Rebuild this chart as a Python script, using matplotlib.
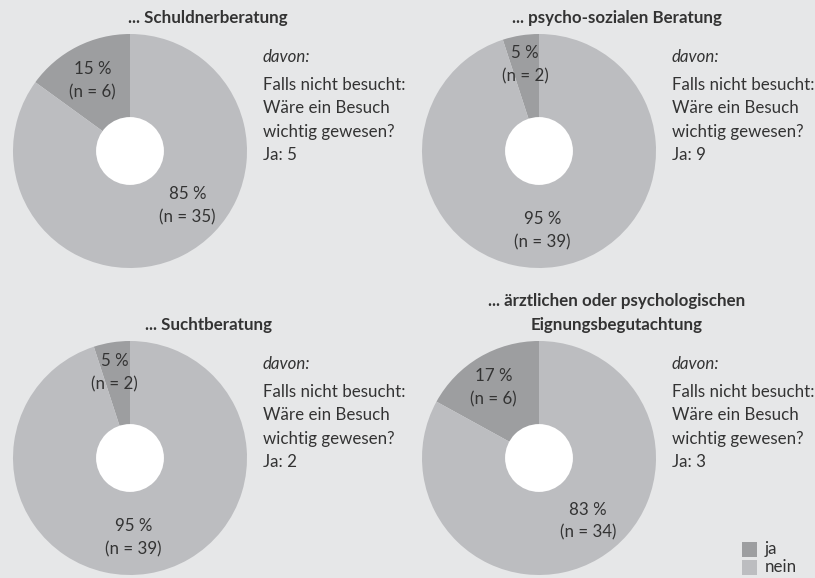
import matplotlib
matplotlib.use("Agg")
import matplotlib.pyplot as plt
from matplotlib.patches import Circle, Rectangle

# ---- data ----
titles = ["... Schuldnerberatung",
          "... psycho-sozialen Beratung",
          "... Suchtberatung",
          "... ärztlichen oder psychologischen\nEignungsbegutachtung"]
pct_ja = [15, 5, 5, 17]
pct_nein = [85, 95, 95, 83]
n_ja = [6, 2, 2, 6]
n_nein = [35, 39, 39, 34]
ja_wichtig = [5, 9, 2, 3]
legend_labels = ["ja", "nein"]

# ---- style ----
BG = "#e6e7e8"
C_JA = "#9d9ea0"
C_NEIN = "#bcbdc0"
TXT = "#333333"
FONT = ["Lato", "DejaVu Sans"]
plt.rcParams["font.family"] = FONT

W, H = 815, 578
fig = plt.figure(figsize=(W / 100, H / 100), dpi=100, facecolor=BG)

def fx(x):
    return x / W

def fy(y):
    return 1 - y / H

centers = [(130, 151), (539, 151), (130, 458), (539, 458)]
R = 117.0
hole = 0.29
# label positions in donut units (ja, nein)
ja_pos = [(-0.32, 0.60), (-0.12, 0.74), (-0.13, 0.73), (-0.39, 0.60)]
nein_pos = [(0.49, -0.47), (0.03, -0.68), (0.03, -0.68), (0.42, -0.54)]
FS = 12.2

for i, (cx, cy) in enumerate(centers):
    ax = fig.add_axes([fx(cx - R), fy(cy + R), 2 * R / W, 2 * R / H])
    ax.pie([pct_ja[i], pct_nein[i]], colors=[C_JA, C_NEIN], startangle=90,
           counterclock=True, radius=1.0, wedgeprops=dict(linewidth=0))
    ax.add_patch(Circle((0, 0), hole, facecolor="white", edgecolor="none", zorder=5))
    ax.set_xlim(-1, 1)
    ax.set_ylim(-1, 1)
    ax.set_aspect("auto")
    ax.axis("off")
    jx, jy = ja_pos[i]
    ax.text(jx, jy, f"{pct_ja[i]} %\n(n = {n_ja[i]})", ha="center", va="center",
            fontsize=FS, color=TXT, linespacing=1.55, zorder=6)
    nx, ny = nein_pos[i]
    ax.text(nx, ny, f"{pct_nein[i]} %\n(n = {n_nein[i]})", ha="center", va="center",
            fontsize=FS, color=TXT, linespacing=1.55, zorder=6)

    # title
    tb = cy - 151 + 23
    fig.text(fx(cx + 78), fy(tb), titles[i], ha="center", va="baseline",
             fontsize=FS, fontweight="bold", color=TXT, linespacing=1.6)

    # side text
    sx = cx + 133
    lines = [("davon:", "italic", -89), ("Falls nicht besucht:", "normal", -61),
             ("Wäre ein Besuch", "normal", -38), ("wichtig gewesen?", "normal", -14),
             (f"Ja: {ja_wichtig[i]}", "normal", 9)]
    for txt, style, dy in lines:
        fig.text(fx(sx), fy(cy + dy), txt, ha="left", va="baseline",
                 fontsize=FS, fontstyle=style, color=TXT)

# legend
for k, (lab, col) in enumerate(zip(legend_labels, [C_JA, C_NEIN])):
    y0 = 542 + k * 18
    fig.patches.append(Rectangle((fx(742), fy(y0 + 15)), 15 / W, 15 / H,
                                 transform=fig.transFigure, facecolor=col,
                                 edgecolor="none"))
    fig.text(fx(765), fy(y0 + 7), lab, ha="left", va="center",
             fontsize=FS, color=TXT)

fig.savefig("out.png", dpi=100, facecolor=BG)
